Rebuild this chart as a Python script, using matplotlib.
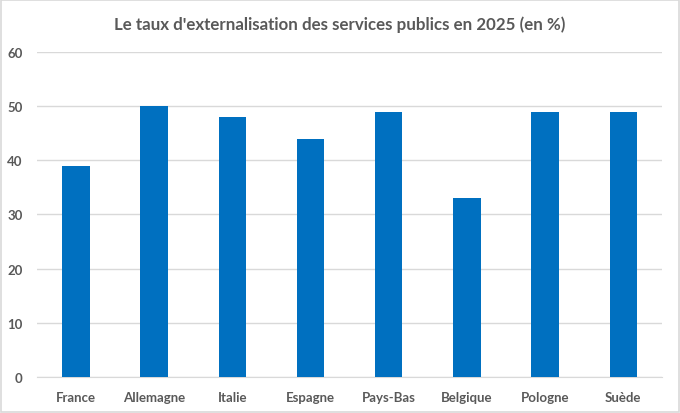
import matplotlib.pyplot as plt
from matplotlib.patches import Rectangle

# Données
pays = ['France', 'Allemagne', 'Italie', 'Espagne', 'Pays-Bas', 'Belgique', 'Pologne', 'Suède']
taux = [39, 50, 48, 44, 49, 33, 49, 49]
graduations = [0, 10, 20, 30, 40, 50, 60]

plt.rcParams['font.family'] = ['Lato', 'DejaVu Sans']

fig = plt.figure(figsize=(6.8, 4.14), dpi=100)
ax = fig.add_axes([0.054, 0.087, 0.92, 0.785])

ax.bar(range(len(pays)), taux, width=0.35, color='#0070C0', zorder=3)
ax.set_xlim(-0.5, len(pays) - 0.5)
ax.set_ylim(0, 60)
ax.set_yticks(graduations)
ax.set_xticks(range(len(pays)))
ax.set_xticklabels(pays)

ax.grid(axis='y', color='#D9D9D9', linewidth=1, zorder=0)
for s in ['top', 'right', 'left']:
    ax.spines[s].set_visible(False)
ax.spines['bottom'].set_color('#D9D9D9')
ax.tick_params(length=0, colors='#595959', labelsize=9.5, pad=10)
for lab in ax.get_xticklabels() + ax.get_yticklabels():
    lab.set_fontweight('bold')

fig.text(0.5, 0.94, "Le taux d'externalisation des services publics en 2025 (en %)",
         ha='center', va='center', fontsize=12.2, fontweight='bold', color='#595959')

# Cadre du graphique
fig.patches.append(Rectangle((0.002, 0.003), 0.996, 0.994, transform=fig.transFigure,
                             fill=False, edgecolor='#D9D9D9', linewidth=1.2))

fig.savefig('out.png', dpi=100)
